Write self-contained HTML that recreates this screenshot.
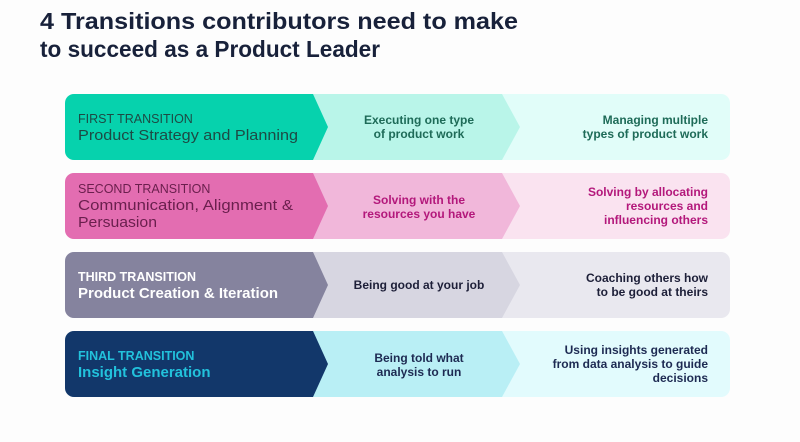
<!DOCTYPE html>
<html><head><meta charset="utf-8"><style>
html,body{margin:0;padding:0;background:#fdfdfd;width:800px;height:442px;overflow:hidden}
svg{display:block}
text{font-family:"Liberation Sans",sans-serif}
.t{font-size:23px;font-weight:bold;fill:#18213a}
.lab{font-size:12.5px}
.ttl{font-size:15px}
.d{font-size:12px;font-weight:bold}
</style></head><body>
<svg width="800" height="442" viewBox="0 0 800 442" xmlns="http://www.w3.org/2000/svg">
<defs>
<clipPath id="c1"><rect x="65" y="94" width="665" height="66" rx="9"/></clipPath>
<clipPath id="c2"><rect x="65" y="173" width="665" height="66" rx="9"/></clipPath>
<clipPath id="c3"><rect x="65" y="252" width="665" height="66" rx="9"/></clipPath>
<clipPath id="c4"><rect x="65" y="331" width="665" height="66" rx="9"/></clipPath>
</defs>
<text class="t" x="40" y="29" textLength="478" lengthAdjust="spacingAndGlyphs">4 Transitions contributors need to make</text>
<text class="t" x="40" y="57" textLength="340" lengthAdjust="spacingAndGlyphs">to succeed as a Product Leader</text>

<g clip-path="url(#c1)">
<rect x="60" y="94" width="680" height="66" fill="#e1fdf9"/>
<polygon points="300,94 502,94 520,127 502,160 300,160" fill="#b9f5e9"/>
<polygon points="60,94 313,94 328,127 313,160 60,160" fill="#06d2ad"/>
</g>
<text class="lab" x="78" y="123" fill="#1d4a44">FIRST TRANSITION</text>
<text class="ttl" x="78" y="140" fill="#1d4a44" textLength="220" lengthAdjust="spacingAndGlyphs">Product Strategy and Planning</text>
<text class="d" x="419" y="124" text-anchor="middle" fill="#1e6b58">Executing one type</text>
<text class="d" x="419" y="138" text-anchor="middle" fill="#1e6b58">of product work</text>
<text class="d" x="708" y="124" text-anchor="end" fill="#1e6b58">Managing multiple</text>
<text class="d" x="708" y="138" text-anchor="end" fill="#1e6b58">types of product work</text>

<g clip-path="url(#c2)">
<rect x="60" y="173" width="680" height="66" fill="#fae3f0"/>
<polygon points="300,173 502,173 520,206 502,239 300,239" fill="#f1b7da"/>
<polygon points="60,173 313,173 328,206 313,239 60,239" fill="#e36db1"/>
</g>
<text class="lab" x="78" y="193" fill="#6a1f4d">SECOND TRANSITION</text>
<text class="ttl" x="78" y="210" fill="#6a1f4d" textLength="215" lengthAdjust="spacingAndGlyphs">Communication, Alignment &amp;</text>
<text class="ttl" x="78" y="227" fill="#6a1f4d" textLength="79" lengthAdjust="spacingAndGlyphs">Persuasion</text>
<text class="d" x="419" y="204" text-anchor="middle" fill="#b3187b">Solving with the</text>
<text class="d" x="419" y="218" text-anchor="middle" fill="#b3187b">resources you have</text>
<text class="d" x="708" y="196" text-anchor="end" fill="#b3187b">Solving by allocating</text>
<text class="d" x="708" y="210" text-anchor="end" fill="#b3187b">resources and</text>
<text class="d" x="708" y="224" text-anchor="end" fill="#b3187b">influencing others</text>

<g clip-path="url(#c3)">
<rect x="60" y="252" width="680" height="66" fill="#e9e8ef"/>
<polygon points="300,252 502,252 520,285 502,318 300,318" fill="#d7d6e1"/>
<polygon points="60,252 313,252 328,285 313,318 60,318" fill="#85839e"/>
</g>
<text class="lab" x="78" y="281" fill="#ffffff" font-weight="bold">THIRD TRANSITION</text>
<text class="ttl" x="78" y="298" fill="#ffffff" font-weight="bold">Product Creation &amp; Iteration</text>
<text class="d" x="419" y="289" text-anchor="middle" fill="#1d1f38">Being good at your job</text>
<text class="d" x="708" y="282" text-anchor="end" fill="#1d1f38">Coaching others how</text>
<text class="d" x="708" y="296" text-anchor="end" fill="#1d1f38">to be good at theirs</text>

<g clip-path="url(#c4)">
<rect x="60" y="331" width="680" height="66" fill="#e2fbfd"/>
<polygon points="300,331 502,331 520,364 502,397 300,397" fill="#b9eff5"/>
<polygon points="60,331 313,331 328,364 313,397 60,397" fill="#12376a"/>
</g>
<text class="lab" x="78" y="360" fill="#22c2dc" font-weight="bold">FINAL TRANSITION</text>
<text class="ttl" x="78" y="377" fill="#22c2dc" font-weight="bold">Insight Generation</text>
<text class="d" x="419" y="362" text-anchor="middle" fill="#1d2a52">Being told what</text>
<text class="d" x="419" y="376" text-anchor="middle" fill="#1d2a52">analysis to run</text>
<text class="d" x="708" y="354" text-anchor="end" fill="#1d2a52">Using insights generated</text>
<text class="d" x="708" y="368" text-anchor="end" fill="#1d2a52">from data analysis to guide</text>
<text class="d" x="708" y="382" text-anchor="end" fill="#1d2a52">decisions</text>
</svg>
</body></html>
